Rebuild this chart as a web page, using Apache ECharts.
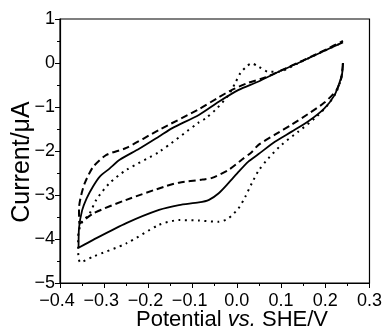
<!DOCTYPE html>
<html>
<head>
<meta charset="utf-8">
<script src="https://cdn.jsdelivr.net/npm/echarts@6/dist/echarts.min.js"></script>
<style>
html,body{margin:0;padding:0;background:#fff;}
#chart{width:385px;height:331px;}
</style>
</head>
<body>
<div id="chart"></div>
<script>
// Potential (V vs SHE) and current (µA) pairs
const solidX = [0.240, 0.238, 0.232, 0.221, 0.198, 0.161, 0.124, 0.086, 0.049, 0.026, 0.004, -0.019, -0.041, -0.063, -0.086, -0.131, -0.176, -0.250, -0.325, -0.358,
                -0.357, -0.350, -0.340, -0.325, -0.310, -0.288, -0.265, -0.221, -0.176, -0.146, -0.086, -0.041, 0.004, 0.049, 0.094, 0.139, 0.190, 0.240];
const solidY = [0.00, -0.25, -0.45, -0.73, -1.03, -1.33, -1.56, -1.79, -2.07, -2.24, -2.47, -2.73, -2.96, -3.11, -3.17, -3.23, -3.34, -3.64, -4.02, -4.20,
                -3.75, -3.35, -3.08, -2.80, -2.58, -2.40, -2.20, -1.95, -1.67, -1.48, -1.18, -0.88, -0.61, -0.42, -0.20, 0.00, 0.24, 0.47];

const dashX = [0.240, 0.236, 0.225, 0.198, 0.161, 0.124, 0.086, 0.049, 0.034, 0.011, -0.019, -0.056, -0.078, -0.131, -0.161, -0.250, -0.325, -0.356,
               -0.357, -0.352, -0.344, -0.325, -0.295, -0.250, -0.176, -0.086, -0.041, -0.011, 0.026, 0.064, 0.100, 0.150, 0.200, 0.240];
const dashY = [0.00, -0.35, -0.62, -0.90, -1.16, -1.40, -1.63, -1.86, -2.02, -2.20, -2.43, -2.61, -2.65, -2.72, -2.80, -3.11, -3.42, -3.65,
               -3.30, -3.00, -2.73, -2.36, -2.09, -1.93, -1.52, -1.05, -0.78, -0.61, -0.45, -0.33, -0.17, 0.06, 0.30, 0.50];

const dotX = [0.240, 0.236, 0.225, 0.206, 0.176, 0.139, 0.101, 0.071, 0.049, 0.034, 0.019, 0.004, -0.019, -0.041, -0.086, -0.131, -0.176, -0.250, -0.325, -0.354, -0.359, -0.359,
              -0.352, -0.333, -0.318, -0.288, -0.250, -0.176, -0.086, -0.071, -0.045, -0.019, -0.004, 0.008, 0.023, 0.034, 0.049, 0.071, 0.094, 0.139, 0.190, 0.240];
const dotY = [0.00, -0.35, -0.66, -0.95, -1.26, -1.56, -1.86, -2.17, -2.45, -2.73, -3.04, -3.30, -3.53, -3.61, -3.58, -3.57, -3.68, -4.10, -4.40, -4.53, -4.25, -3.95,
              -3.65, -3.42, -3.11, -2.73, -2.43, -2.02, -1.35, -1.26, -1.03, -0.73, -0.46, -0.23, -0.07, -0.01, -0.08, -0.20, -0.20, 0.00, 0.24, 0.47];

const xTicks = { min: -0.4, max: 0.3, interval: 0.1 };
const yTicks = { min: -5, max: 1, interval: 1 };

const pairs = (xs, ys) => xs.map((x, i) => [x, ys[i]]);
const minus = s => String(s).replace('-', '\u2212');
const FONT = '"Liberation Sans", Arial, Helvetica, sans-serif';

const chart = echarts.init(document.getElementById('chart'), null, { renderer: 'canvas' });
chart.setOption({
  animation: false,
  backgroundColor: '#fff',
  grid: { left: 60, right: 13, top: 19, bottom: 48, show: true, borderColor: '#000', borderWidth: 1.2 },
  xAxis: {
    type: 'value', min: xTicks.min, max: xTicks.max, interval: xTicks.interval,
    axisLine: { show: true, onZero: false, lineStyle: { color: '#000', width: 1.2 } },
    axisTick: { show: true, inside: false, length: 5, lineStyle: { color: '#000' } },
    minorTick: { show: true, splitNumber: 2, length: 3, lineStyle: { color: '#000' } },
    splitLine: { show: false },
    axisLabel: { color: '#000', fontFamily: FONT, fontSize: 18, margin: 9,
      showMinLabel: true, showMaxLabel: true, hideOverlap: false,
      formatter: v => {
        const t = (Math.abs(v) < 1e-9 ? 0 : v).toFixed(1);
        return t.startsWith('-') ? minus(t) + '{h| }' : t;
      },
      rich: { h: { fontFamily: FONT, fontSize: 18, width: 6, color: 'rgba(0,0,0,0)' } } }
  },
  yAxis: {
    type: 'value', min: yTicks.min, max: yTicks.max, interval: yTicks.interval,
    axisLine: { show: true, onZero: false, lineStyle: { color: '#000', width: 1.2 } },
    axisTick: { show: true, inside: false, length: 5, lineStyle: { color: '#000' } },
    minorTick: { show: true, splitNumber: 2, length: 3, lineStyle: { color: '#000' } },
    splitLine: { show: false },
    axisLabel: { color: '#000', fontFamily: FONT, fontSize: 18, margin: 5,
      showMinLabel: true, showMaxLabel: true,
      formatter: v => minus(Math.round(v)) }
  },
  graphic: [
    { type: 'text', x: 22, y: 162, rotation: Math.PI / 2,
      style: { text: 'Current/\u03bcA', fill: '#000', fontFamily: FONT, fontSize: 25, align: 'center', verticalAlign: 'middle' } },
    { type: 'text', x: 232, y: 320,
      style: { text: '{n|Potential }{i|vs.}{n| SHE/V}', fill: '#000', align: 'center', verticalAlign: 'middle',
        rich: { n: { fontFamily: FONT, fontSize: 22, fill: '#000' }, i: { fontFamily: FONT, fontSize: 22, fontStyle: 'italic', fill: '#000' } } } }
  ],
  series: [
    { type: 'line', data: pairs(solidX, solidY), symbol: 'none', smooth: 0.25,
      lineStyle: { color: '#000', width: 1.8, type: 'solid' } },
    { type: 'line', data: pairs(dashX, dashY), symbol: 'none', smooth: 0.25,
      lineStyle: { color: '#000', width: 2, type: [7, 4] } },
    { type: 'line', data: pairs(dotX, dotY), symbol: 'none', smooth: 0.25,
      lineStyle: { color: '#000', width: 2, type: [2, 4.5] } }
  ]
});
</script>
</body>
</html>
